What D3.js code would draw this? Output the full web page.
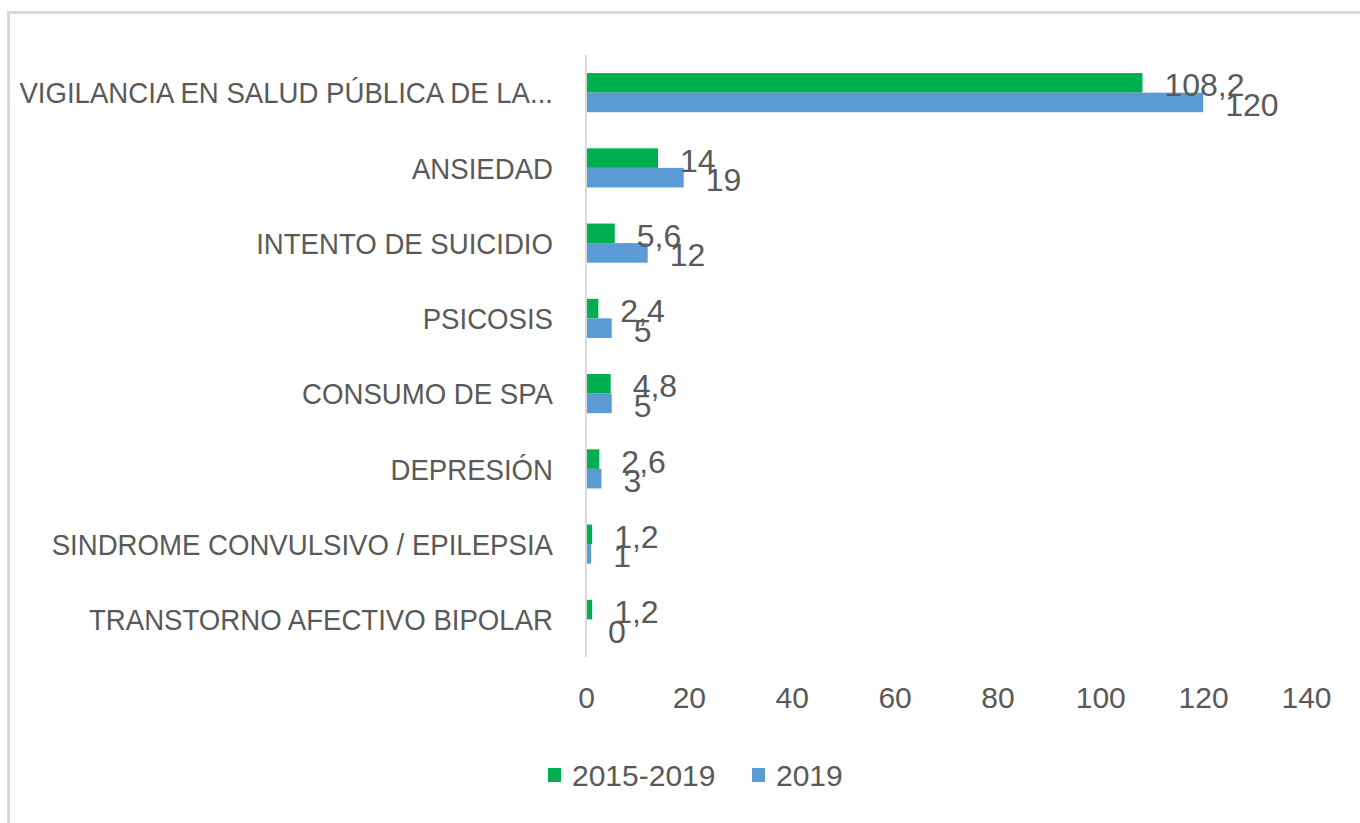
<!DOCTYPE html>
<html>
<head>
<meta charset="utf-8">
<script src="https://cdn.jsdelivr.net/npm/d3@7"></script>
<style>
  body { margin: 0; background: #fff; }
  text { font-family: "Liberation Sans Narrow", "Arial Narrow", "Liberation Sans", sans-serif; fill: #595959; }
</style>
</head>
<body>
<div id="chart"></div>
<script>
const categories = [
  "VIGILANCIA EN SALUD PÚBLICA DE LA...",
  "ANSIEDAD",
  "INTENTO DE SUICIDIO",
  "PSICOSIS",
  "CONSUMO DE SPA",
  "DEPRESIÓN",
  "SINDROME CONVULSIVO / EPILEPSIA",
  "TRANSTORNO AFECTIVO BIPOLAR"
];
const series = ["2015-2019", "2019"];
const values2015_2019 = [108.2, 14, 5.6, 2.4, 4.8, 2.6, 1.2, 1.2];
const values2019 = [120, 19, 12, 5, 5, 3, 1, 0];
const xTicks = [0, 20, 40, 60, 80, 100, 120, 140];
const colors = ["#00b050", "#5b9bd5"];

window.onload = function () {
  const W = 1360, H = 823;
  const margin = { top: 55, right: 54, bottom: 166, left: 586 };
  const width = W - margin.left - margin.right;
  const height = H - margin.top - margin.bottom;
  const squeeze = 0.92; // narrow the text like the original font

  const root = d3.select("#chart").append("svg")
    .attr("width", W).attr("height", H);

  root.append("rect")
    .attr("x", 8.5).attr("y", 12.5)
    .attr("width", W + 20).attr("height", H + 20)
    .attr("fill", "none").attr("stroke", "#d9d9d9").attr("stroke-width", 3);

  const svg = root.append("g")
    .attr("transform", `translate(${margin.left},${margin.top})`);

  const x = d3.scaleLinear().domain([0, 140]).range([0, width]);
  const y = d3.scaleBand().domain(categories).range([0, height])
    .paddingInner(0.48).paddingOuter(0.24);
  const ys = d3.scaleBand().domain(series).range([0, y.bandwidth()]);

  const data = categories.map((c, i) => ({
    cat: c,
    vals: [
      { s: series[0], v: values2015_2019[i] },
      { s: series[1], v: values2019[i] }
    ]
  }));

  // x axis labels only
  const xa = svg.append("g")
    .attr("transform", `translate(0,${height})`)
    .call(d3.axisBottom(x).tickValues(xTicks).tickSize(0).tickPadding(30));
  xa.select(".domain").remove();
  xa.selectAll("text").style("font-size", "30px").attr("fill", "#595959");

  // category labels
  const ya = svg.append("g")
    .call(d3.axisLeft(y).tickSize(0).tickPadding(0));
  ya.select(".domain").remove();
  ya.selectAll("text")
    .style("font-size", "30px").attr("fill", "#595959")
    .attr("x", 0).attr("dy", "0.36em")
    .attr("transform", `translate(-33,0) scale(${squeeze},1)`);

  const groups = svg.selectAll(".cat").data(data).enter().append("g")
    .attr("transform", (d) => `translate(0,${y(d.cat)})`);

  groups.selectAll("rect").data((d) => d.vals).enter().append("rect")
    .attr("x", 0)
    .attr("y", (d) => ys(d.s))
    .attr("width", (d) => x(d.v))
    .attr("height", ys.bandwidth())
    .attr("fill", (d, i) => colors[i]);

  groups.selectAll(".lbl").data((d) => d.vals).enter().append("text")
    .attr("class", "lbl")
    .attr("x", (d) => x(d.v) + 22)
    .attr("y", (d) => ys(d.s) + ys.bandwidth() / 2)
    .attr("dy", "0.42em")
    .style("font-size", "32px")
    .text((d) => String(d.v).replace(".", ","));

  // vertical axis line
  svg.append("line")
    .attr("x1", x(0)).attr("x2", x(0))
    .attr("y1", 0).attr("y2", height)
    .attr("stroke", "#d9d9d9").attr("stroke-width", 2);

  // legend
  const legend = root.append("g").attr("transform", "translate(548,768)");
  const legendX = [0, 204];
  series.forEach((s, i) => {
    const g = legend.append("g").attr("transform", `translate(${legendX[i]},0)`);
    g.append("rect").attr("width", 13).attr("height", 14).attr("fill", colors[i]);
    g.append("text").attr("x", 24).attr("y", 7).attr("dy", "0.36em")
      .style("font-size", "30px").text(s);
  });
};
</script>
</body>
</html>
